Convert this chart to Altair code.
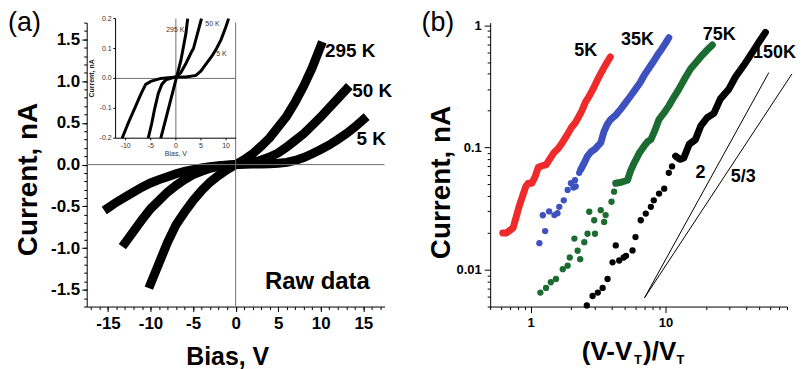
import altair as alt
import pandas as pd

FONT = "Liberation Sans"

# ---------------- Panel (a): raw I-V data ----------------
a295_v = [-10, -9, -8, -7, -6, -5, -4, -3, -2, -1, 0, 1, 2, 3, 4, 5, 6, 7, 8, 9, 10]
a295_i = [-1.43, -1.18, -0.93, -0.72, -0.57, -0.43, -0.31, -0.21, -0.13, -0.06, 0.0,
          0.06, 0.13, 0.22, 0.32, 0.45, 0.58, 0.75, 0.94, 1.16, 1.42]
a50_v = [-13, -12, -11, -10, -9, -8, -7, -6, -5, -4, -3, -2, -1, 0,
         1, 2, 3, 4, 5, 6, 7, 8, 9, 10, 11, 12, 13]
a50_i = [-0.94, -0.80, -0.66, -0.53, -0.43, -0.33, -0.25, -0.18, -0.12, -0.08, -0.045, -0.02, -0.01, 0.0,
         0.01, 0.025, 0.055, 0.09, 0.14, 0.21, 0.29, 0.37, 0.47, 0.57, 0.68, 0.79, 0.90]
a5_v = [-15, -14, -13, -12, -11, -10, -9, -8, -7, -6, -5, -4, -3, -2, -1, 0,
        1, 2, 3, 4, 5, 6, 7, 8, 9, 10, 11, 12, 13, 14, 15]
a5_i = [-0.52, -0.45, -0.39, -0.33, -0.27, -0.22, -0.18, -0.145, -0.11, -0.08, -0.06, -0.04, -0.025, -0.012, -0.005, 0.0,
        0.003, 0.006, 0.008, 0.011, 0.016, 0.027, 0.05, 0.085, 0.13, 0.18, 0.235, 0.30, 0.37, 0.45, 0.54]

# inset (zoom on low currents)
in295_v = [-3.0, -2.0, -1.0, 0.0, 1.0, 2.0, 2.35]
in295_i = [-0.2, -0.135, -0.07, -0.005, 0.06, 0.15, 0.2]
in50_v = [-5.5, -4.8, -4.2, -3.5, -2.8, -2.0, -1.0, 0.0, 1.0, 2.0, 3.0, 3.5, 4.3, 5.1]
in50_i = [-0.2, -0.15, -0.1, -0.05, -0.02, -0.005, 0.0, 0.005, 0.02, 0.05, 0.085, 0.1, 0.15, 0.2]
in5_v = [-10.7, -9.5, -8.2, -6.9, -6.0, -5.0, -3.0, 0.0, 2.0, 4.0, 5.0, 6.1, 7.2, 8.1, 9.0, 9.8, 10.5]
in5_i = [-0.2, -0.15, -0.1, -0.05, -0.02, -0.01, 0.0, 0.005, 0.005, 0.01, 0.025, 0.05, 0.075, 0.1, 0.13, 0.165, 0.2]
in_xticks = [-10, -5, 0, 5, 10]
in_yticks = [-0.2, -0.1, 0.0, 0.1, 0.2]

# curve labels (text, bias, current)
lab_a_text = ["295 K", "50 K", "5 K"]
lab_a_v = [10.5, 13.7, 14.2]
lab_a_i = [1.366, 0.877, 0.304]
inlab_text = ["295 K", "50 K", "5 K"]
inlab_v = [1.7, 5.86, 8.04]
inlab_i = [0.163, 0.183, 0.083]
inlab_align = ["right", "left", "left"]

# ---------------- Panel (b): log-log data ----------------
series_b = ["5K", "35K", "75K", "150K"]
colors_b = ["#ee2a2a", "#3d52bf", "#1c6b31", "#000000"]

red_x = [0.62, 0.66, 0.70, 0.74, 0.78, 0.82, 0.87, 0.92, 0.96, 1.02, 1.08, 1.14, 1.22, 1.30, 1.38,
         1.48, 1.60, 1.72, 1.85, 2.0, 2.15, 2.25, 2.4, 2.55, 2.7, 2.9, 3.1, 3.3, 3.5, 3.7, 3.9]
red_i = [0.020, 0.020, 0.021, 0.022, 0.027, 0.033, 0.040, 0.048, 0.051, 0.051, 0.058, 0.069, 0.071, 0.072, 0.080,
         0.090, 0.098, 0.110, 0.125, 0.145, 0.16, 0.175, 0.20, 0.235, 0.26, 0.30, 0.35, 0.40, 0.45, 0.50, 0.55]

blue_sx = [1.16, 1.28, 1.23, 1.37, 1.50, 1.58, 1.63, 1.76, 1.88, 1.99, 2.08, 2.13, 2.16, 2.29]
blue_si = [0.0165, 0.0207, 0.0279, 0.030, 0.028, 0.029, 0.0327, 0.037, 0.045, 0.051, 0.047, 0.054, 0.048, 0.062]
blue_dx = [2.35, 2.5, 2.64, 2.8, 3.0, 3.15, 3.31, 3.5, 3.7, 3.93, 4.3, 4.66, 5.1, 5.53, 6.0, 6.5, 6.96,
           7.5, 8.1, 8.73, 9.4, 10.0, 10.6]
blue_di = [0.066, 0.075, 0.085, 0.092, 0.097, 0.103, 0.109, 0.135, 0.155, 0.17, 0.185, 0.206, 0.235, 0.265,
           0.30, 0.34, 0.39, 0.44, 0.50, 0.57, 0.64, 0.71, 0.79]

green_sx = [1.18, 1.30, 1.41, 1.54, 1.73, 1.88, 1.95, 2.11, 2.23, 2.33, 2.50, 2.64, 2.72, 2.96, 3.0,
            3.31, 3.51, 3.6, 3.98, 4.16]
green_si = [0.0065, 0.0071, 0.0079, 0.0084, 0.0101, 0.0108, 0.0126, 0.018, 0.0143, 0.0122, 0.0168, 0.0197,
            0.0298, 0.0254, 0.0197, 0.0307, 0.0246, 0.028, 0.036, 0.0435]
green_dx = [4.28, 4.7, 5.23, 5.5, 5.87, 6.4, 6.96, 7.4, 7.8, 8.4, 8.97, 9.7, 10.6, 11.5, 12.6, 14.0,
            15.4, 17.0, 18.8, 20.5, 22.3]
green_di = [0.051, 0.052, 0.054, 0.064, 0.075, 0.090, 0.103, 0.112, 0.116, 0.14, 0.17, 0.19, 0.219, 0.255,
            0.30, 0.37, 0.44, 0.50, 0.57, 0.63, 0.69]

black_sx = [2.61, 2.88, 3.15, 3.42, 3.72, 4.05, 4.28, 4.54, 4.9, 5.1, 5.7, 6.0, 6.56, 7.15, 7.8, 8.2,
            8.97, 9.8, 10.6, 11.2]
black_si = [0.0051, 0.0061, 0.0065, 0.0071, 0.0084, 0.0115, 0.0158, 0.0119, 0.0126, 0.013, 0.0144, 0.0185,
            0.0254, 0.0288, 0.0327, 0.037, 0.042, 0.046, 0.062, 0.070]
black_dx = [11.9, 12.8, 13.7, 15.0, 16.7, 18.3, 20.5, 22.9, 25.6, 29.6, 33.1, 38.2, 45.3, 50.0, 55.3]
black_di = [0.085, 0.080, 0.082, 0.106, 0.116, 0.15, 0.176, 0.19, 0.25, 0.30, 0.377, 0.47, 0.625, 0.74, 0.875]

# power-law guide lines
slope_names = ["2", "5/3"]
slope_x = [[7.0, 58.6], [7.0, 87.0]]
slope_i = [[0.0059, 0.41], [0.0059, 0.40]]

lab_b_text = ["5K", "35K", "75K", "150K", "2", "5/3"]
lab_b_x = [2.56, 6.2, 25.1, 64.5, 18.2, 37.8]
lab_b_i = [0.62, 0.75, 0.83, 0.59, 0.062, 0.0575]

# ---------------- build tables ----------------
def long(name, xs, ys, xk, yk):
    return [{"s": name, xk: x, yk: y, "k": n} for n, (x, y) in enumerate(zip(xs, ys))]

dfA = pd.DataFrame(long("295 K", a295_v, a295_i, "v", "i")
                   + long("50 K", a50_v, a50_i, "v", "i")
                   + long("5 K", a5_v, a5_i, "v", "i"))
dfIn = pd.DataFrame(long("295 K", in295_v, in295_i, "v", "i")
                    + long("50 K", in50_v, in50_i, "v", "i")
                    + long("5 K", in5_v, in5_i, "v", "i"))
dfLabA = pd.DataFrame({"t": lab_a_text, "v": lab_a_v, "i": lab_a_i})
dfInLab = pd.DataFrame({"t": inlab_text, "v": inlab_v, "i": inlab_i, "a": inlab_align})
x_lo, x_hi, y_lo, y_hi = -12, 12, -0.2, 0.2
dfInXT = pd.DataFrame({"v": in_xticks, "lab": [f"{v:g}" for v in in_xticks],
                       "y0": [y_lo] * len(in_xticks), "y1": [y_lo - 0.007] * len(in_xticks)})
dfInYT = pd.DataFrame({"i": in_yticks, "lab": [f"{v:.1f}" for v in in_yticks],
                       "x0": [x_lo] * len(in_yticks), "x1": [x_lo - 0.45] * len(in_yticks)})

dfDense = pd.DataFrame(long("5K", red_x, red_i, "x", "i")
                       + long("35K", blue_dx, blue_di, "x", "i")
                       + long("75K", green_dx, green_di, "x", "i")
                       + long("150K", black_dx, black_di, "x", "i"))
dfSparse = pd.DataFrame(long("35K", blue_sx, blue_si, "x", "i")
                        + long("75K", green_sx, green_si, "x", "i")
                        + long("150K", black_sx, black_si, "x", "i"))
dfSlope = pd.DataFrame(sum([long(n, xs, ys, "x", "i") for n, xs, ys in zip(slope_names, slope_x, slope_i)], []))
dfLabB = pd.DataFrame({"t": lab_b_text, "x": lab_b_x, "i": lab_b_i})

# ---------------- panel (a) ----------------
W_A, H_A = 299, 285
xa = alt.Scale(domain=[-17.5, 17.5], nice=False, zero=False)
ya = alt.Scale(domain=[-1.7, 1.7], nice=False, zero=False)

ax_xa = alt.Axis(orient="bottom", values=[-15, -10, -5, 0, 5, 10, 15], labelExpr="'' + datum.value",
                 tickSize=5, labelFontSize=17, labelFontWeight="bold", labelPadding=4, labelFlush=False,
                 title="Bias, V", titleFontSize=25, titleFontWeight="bold", titleX=141, titleY=58,
                 titleBaseline="alphabetic", titleAlign="center")
ax_ya = alt.Axis(orient="left", values=[-1.5, -1.0, -0.5, 0.0, 0.5, 1.0, 1.5],
                 labelExpr="(datum.value < 0 ? '-' : '') + format(abs(datum.value), '.1f')",
                 tickSize=5, labelFontSize=17, labelFontWeight="bold", labelPadding=2, labelFlush=False,
                 title="Current, nA", titleFontSize=28, titleFontWeight="bold", titleX=-50, titleY=157,
                 titleAngle=270, titleBaseline="alphabetic", titleAlign="center")
ax_xa_min = alt.Axis(orient="bottom", values=[k for k in range(-17, 18)], labels=False, tickSize=3,
                     domain=False, title=None)
ax_ya_min = alt.Axis(orient="left", values=[round(-1.7 + 0.1 * k, 1) for k in range(35)], labels=False,
                     tickSize=3, domain=False, title=None)

curves = alt.Chart(dfA).mark_line(color="black", strokeWidth=9, strokeCap="square").encode(
    x=alt.X("v:Q", scale=xa, axis=ax_xa), y=alt.Y("i:Q", scale=ya, axis=ax_ya),
    detail="s:N", order="k:Q")
vzero = alt.Chart(pd.DataFrame({"v": [0]})).mark_rule(color="#707070", strokeWidth=1).encode(
    x=alt.X("v:Q", scale=xa, axis=ax_xa_min))
hzero = alt.Chart(pd.DataFrame({"i": [0]})).mark_rule(color="#707070", strokeWidth=1).encode(
    y=alt.Y("i:Q", scale=ya, axis=ax_ya_min))
labA = alt.Chart(dfLabA).mark_text(align="left", baseline="middle", fontSize=19, fontWeight="bold",
                                   font=FONT, color="black").encode(
    x=alt.X("v:Q", scale=xa, axis=None), y=alt.Y("i:Q", scale=ya, axis=None), text="t:N")
raw = alt.Chart(pd.DataFrame({"t": ["Raw data"], "v": [9.6], "i": [-1.41]})).mark_text(
    align="center", baseline="middle", fontSize=24, fontWeight="bold", font=FONT, color="black").encode(
    x=alt.X("v:Q", scale=xa, axis=None), y=alt.Y("i:Q", scale=ya, axis=None), text="t:N")
tagA = alt.Chart(pd.DataFrame({"t": ["(a)"]})).mark_text(
    align="left", baseline="top", fontSize=27, font=FONT, color="black").encode(
    x=alt.value(-79), y=alt.value(-13), text="t:N")

main_a = alt.layer(curves, vzero, hzero, labA, raw, tagA).resolve_axis(x="independent", y="independent")

# inset: own scales mapped into a sub-rectangle of panel (a)
xi = alt.Scale(domain=[x_lo, x_hi], range=[29, 150], nice=False, zero=False)
yi = alt.Scale(domain=[y_lo, y_hi], range=[116, -4], nice=False, zero=False)

def IX(f):
    return alt.X(f, scale=xi, axis=None)

def IY(f):
    return alt.Y(f, scale=yi, axis=None)

in_curves = alt.Chart(dfIn).mark_line(color="black", strokeWidth=3).encode(
    x=IX("v:Q"), y=IY("i:Q"), detail="s:N", order="k:Q")
in_v0 = alt.Chart(pd.DataFrame({"v": [0], "a": [y_lo], "b": [y_hi]})).mark_rule(
    color="#707070", strokeWidth=1).encode(x=IX("v:Q"), y=IY("a:Q"), y2="b:Q")
in_h0 = alt.Chart(pd.DataFrame({"i": [0], "a": [x_lo], "b": [x_hi]})).mark_rule(
    color="#707070", strokeWidth=1).encode(y=IY("i:Q"), x=IX("a:Q"), x2="b:Q")
in_xdom = alt.Chart(pd.DataFrame({"i": [y_lo], "a": [x_lo], "b": [x_hi]})).mark_rule(
    color="black", strokeWidth=1).encode(y=IY("i:Q"), x=IX("a:Q"), x2="b:Q")
in_ydom = alt.Chart(pd.DataFrame({"v": [x_lo], "a": [y_lo], "b": [y_hi]})).mark_rule(
    color="black", strokeWidth=1).encode(x=IX("v:Q"), y=IY("a:Q"), y2="b:Q")
in_xtick = alt.Chart(dfInXT).mark_rule(color="black", strokeWidth=1).encode(
    x=IX("v:Q"), y=IY("y0:Q"), y2="y1:Q")
in_ytick = alt.Chart(dfInYT).mark_rule(color="black", strokeWidth=1).encode(
    y=IY("i:Q"), x=IX("x0:Q"), x2="x1:Q")
in_xlab = alt.Chart(dfInXT).mark_text(align="center", baseline="middle", dy=8, fontSize=7,
                                      font=FONT, color="#333333").encode(
    x=IX("v:Q"), y=IY("y0:Q"), text="lab:N")
in_ylab = alt.Chart(dfInYT).mark_text(align="right", baseline="middle", dx=-4, fontSize=7,
                                      font=FONT, color="#333333").encode(
    x=IX("x0:Q"), y=IY("i:Q"), text="lab:N")
in_xtitle = alt.Chart(pd.DataFrame({"t": ["Bias, V"], "v": [0], "i": [y_lo]})).mark_text(
    align="center", baseline="middle", dy=16, fontSize=7, font=FONT, color="#333333").encode(
    x=IX("v:Q"), y=IY("i:Q"), text="t:N")
in_ytitle = alt.Chart(pd.DataFrame({"t": ["Current, nA"], "v": [-16.7], "i": [0.0]})).mark_text(
    align="center", baseline="middle", angle=270, fontSize=7, fontWeight="bold", font=FONT,
    color="#222222").encode(x=IX("v:Q"), y=IY("i:Q"), text="t:N")
in_lab_r = alt.Chart(dfInLab).transform_filter("datum.a == 'right'").mark_text(
    align="right", baseline="middle", fontSize=7, font=FONT, color="#333333").encode(
    x=IX("v:Q"), y=IY("i:Q"), text="t:N")
in_lab_l = alt.Chart(dfInLab).transform_filter("datum.a == 'left'").mark_text(
    align="left", baseline="middle", fontSize=7, font=FONT, color="#333333").encode(
    x=IX("v:Q"), y=IY("i:Q"), text="t:N")
inset = alt.layer(in_v0, in_h0, in_xdom, in_ydom, in_xtick, in_ytick, in_curves, in_xlab, in_ylab,
                  in_xtitle, in_ytitle, in_lab_r, in_lab_l)

panel_a = alt.layer(main_a, inset).resolve_scale(x="independent", y="independent").properties(
    width=W_A, height=H_A)

# ---------------- panel (b) ----------------
W_B, H_B = 298, 285
xb = alt.Scale(type="log", domain=[0.5, 80], nice=False)
yb = alt.Scale(type="log", domain=[0.005, 1.05], nice=False)
cscale = alt.Scale(domain=series_b, range=colors_b)

ax_xb = alt.Axis(orient="bottom", values=[1, 10], format="~g", tickSize=6, labelFontSize=13,
                 labelFontWeight="bold", labelPadding=4, title=None)
ax_yb = alt.Axis(orient="left", values=[0.01, 0.1, 1], format="~g", tickSize=6, labelFontSize=13,
                 labelFontWeight="bold", labelPadding=3, title="Current, nA", titleFontSize=28,
                 titleFontWeight="bold", titleX=-41, titleY=160, titleAngle=270,
                 titleBaseline="alphabetic", titleAlign="center")
ax_xb_min = alt.Axis(orient="bottom", values=[0.5, 0.6, 0.7, 0.8, 0.9, 2, 3, 4, 5, 6, 7, 8, 9,
                                              20, 30, 40, 50, 60, 70, 80],
                     labels=False, tickSize=3, domain=False, title=None)
ax_yb_min = alt.Axis(orient="left", values=[0.005, 0.006, 0.007, 0.008, 0.009, 0.02, 0.03, 0.04, 0.05,
                                            0.06, 0.07, 0.08, 0.09, 0.2, 0.3, 0.4, 0.5, 0.6, 0.7, 0.8, 0.9],
                     labels=False, tickSize=3, domain=False, title=None)

dots = alt.Chart(dfSparse).mark_circle(size=40, opacity=1).encode(
    x=alt.X("x:Q", scale=xb, axis=ax_xb), y=alt.Y("i:Q", scale=yb, axis=ax_yb),
    color=alt.Color("s:N", scale=cscale, legend=None))
dense = alt.Chart(dfDense).mark_line(strokeWidth=7, strokeCap="round", strokeJoin="round").encode(
    x=alt.X("x:Q", scale=xb, axis=None), y=alt.Y("i:Q", scale=yb, axis=None),
    color=alt.Color("s:N", scale=cscale, legend=None), order="k:Q")
guides = alt.Chart(dfSlope).mark_line(color="black", strokeWidth=1).encode(
    x=alt.X("x:Q", scale=xb, axis=ax_xb_min), y=alt.Y("i:Q", scale=yb, axis=ax_yb_min),
    detail="s:N", order="k:Q")
labB = alt.Chart(dfLabB).mark_text(align="center", baseline="middle", fontSize=18, fontWeight="bold",
                                   font=FONT, color="black").encode(
    x=alt.X("x:Q", scale=xb, axis=None), y=alt.Y("i:Q", scale=yb, axis=None), text="t:N")
tagB = alt.Chart(pd.DataFrame({"t": ["(b)"]})).mark_text(
    align="left", baseline="top", fontSize=27, font=FONT, color="black").encode(
    x=alt.value(-69), y=alt.value(-13), text="t:N")

# x-axis title with subscripts
def ttext(t, x, y, size):
    return alt.Chart(pd.DataFrame({"t": [t]})).mark_text(
        align="left", baseline="alphabetic", fontSize=size, fontWeight="bold", font=FONT,
        color="black").encode(x=alt.value(x), y=alt.value(y), text="t:N")

tb1 = ttext("(V-V", 92, 339, 26)
tb2 = ttext("T", 144.5, 343, 13)
tb3 = ttext(")/V", 153.5, 339, 26)
tb4 = ttext("T", 187, 343, 13)

panel_b = alt.layer(dense, dots, guides, labB, tagB, tb1, tb2, tb3, tb4).resolve_axis(
    x="independent", y="independent").properties(width=W_B, height=H_B)

chart = alt.hconcat(panel_a, panel_b, spacing=106, bounds="flush", padding=0).configure_view(
    stroke=None).configure_axis(
    labelFont=FONT, titleFont=FONT, domainColor="black", tickColor="black", labelColor="black",
    titleColor="black", grid=False)

chart.save("out.html", embed_options={"renderer": "svg", "actions": False})
